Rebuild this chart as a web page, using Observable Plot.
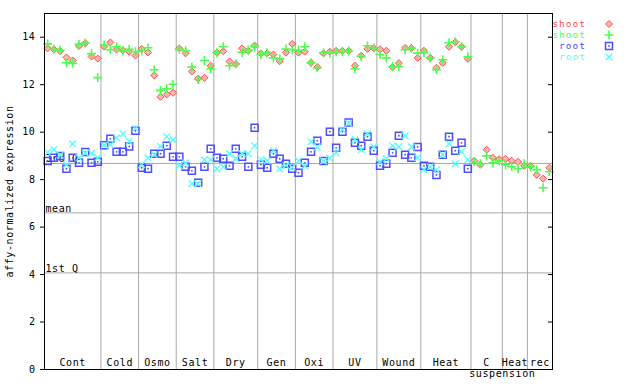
<!DOCTYPE html>
<html><head><meta charset="utf-8">
<script src="https://cdn.jsdelivr.net/npm/d3@7"></script>
<script src="https://cdn.jsdelivr.net/npm/@observablehq/plot@0.6"></script>
<style>
body{margin:0;background:#fff;}
#chart{width:640px;height:384px;}
svg{font-family:"DejaVu Sans Mono",monospace;letter-spacing:0.6px;}
</style></head><body><div id="chart"></div>
<script>
// ---------- data ----------
const groups = ["Cont","Cold","Osmo","Salt","Dry","Gen","Oxi","UV","Wound","Heat","C","Heat","rec"];
const groupSizes = [9,6,6,6,7,6,6,7,7,8,5,4,4];
const subLabel = "suspension";

const shootA = [
  13.53,13.49,13.42,13.15,13.02,13.63,13.75,13.19,13.10,
  13.60,13.78,13.48,13.45,13.39,13.23,
  13.51,13.36,12.39,11.49,11.59,11.66,
  13.53,13.32,12.56,12.26,12.29,12.80,
  13.35,13.41,12.98,12.87,13.53,13.43,13.65,
  13.32,13.32,13.27,12.99,13.35,13.72,
  13.35,13.39,12.92,12.74,13.32,13.39,
  13.43,13.43,13.43,12.80,13.22,13.51,13.54,
  13.49,13.43,12.74,12.91,13.55,13.54,13.13,
  13.43,13.13,12.71,12.92,13.60,13.79,13.60,13.09,
  8.79,8.63,9.26,8.92,8.86,
  8.88,8.79,8.75,8.58,
  8.58,8.20,8.04,8.50
];
const shootB = [
  13.72,13.49,13.45,12.93,12.90,13.70,13.75,13.31,12.30,
  13.67,13.47,13.60,13.43,13.49,13.39,
  13.43,13.56,12.63,11.76,11.83,12.02,
  13.49,13.43,12.74,12.22,13.02,12.67,
  13.35,13.60,12.80,12.88,13.36,13.46,13.60,
  13.26,13.35,13.13,13.09,13.50,13.47,
  13.45,13.60,12.92,12.71,13.35,13.33,
  13.39,13.39,13.42,12.67,13.18,13.64,13.55,
  13.27,13.13,12.76,12.76,13.47,13.54,13.33,
  13.35,13.13,12.63,13.05,13.77,13.81,13.60,13.18,
  8.75,8.67,9.00,8.71,8.79,
  8.63,8.54,8.46,8.67,
  8.54,8.42,7.66,8.33
];
const rootA = [
  8.79,8.92,9.00,8.46,8.92,8.71,9.16,8.71,8.75,
  9.45,9.72,9.17,9.17,9.40,10.06,
  8.50,8.46,9.09,9.09,9.43,8.96,
  8.96,8.54,8.37,7.87,8.54,9.30,
  8.92,8.88,8.58,9.30,8.96,8.54,10.19,
  8.63,8.50,9.09,8.88,8.67,8.46,
  8.29,8.71,9.17,9.64,8.79,10.02,
  9.34,10.02,10.41,9.55,9.43,9.81,9.22,
  8.58,8.67,9.13,9.85,9.05,8.92,9.38,
  8.58,8.54,8.20,9.05,9.81,9.22,9.55,8.46
];
const rootB = [
  9.14,9.26,9.03,8.63,9.51,8.92,9.12,9.12,8.93,
  9.45,9.47,9.76,9.93,9.61,10.15,
  8.63,8.92,9.05,9.40,9.81,9.68,
  8.58,8.71,7.83,7.83,8.84,8.84,
  8.46,8.54,9.09,8.88,9.09,9.09,9.43,
  8.84,8.79,9.22,8.46,8.60,8.52,
  8.79,8.58,9.60,9.38,8.79,8.90,
  9.13,10.10,10.38,9.68,9.26,9.93,9.38,
  8.75,8.88,9.43,9.38,9.85,9.38,8.92,
  8.42,8.54,8.42,9.05,9.51,8.67,9.17,8.84
];
const yTicks = [0,2,4,6,8,10,12,14];
const refLabels = ["3rd Q","mean","1st Q"];
const refValues = [8.68,6.60,4.07];
const seriesNames = ["shoot","shoot","root","root"];
const seriesColors = ["#ff4d4d","#4dff4d","#4d4dff","#4dffff"];
const yLabel = "affy-normalized expression";

// ---------- derived ----------
const groupInfo = [];
let start = 0;
groupSizes.forEach((n, g) => { groupInfo.push({label: groups[g], start, end: start + n, mid: start + (n - 1) / 2}); start += n; });
const nSlots = start;
const boundaries = groupInfo.slice(0, -1).map(d => d.end - 0.5);
const pts = arr => arr.map((v, i) => ({i, v}));
const refs = refLabels.map((l, k) => ({l, v: refValues[k]}));

// custom symbols
const rOf = size => Math.sqrt(size / Math.PI);
const symDiamond = {draw(c, s){const r=rOf(s); c.moveTo(0,-r); c.lineTo(r,0); c.lineTo(0,r); c.lineTo(-r,0); c.closePath();}};
const symPlus = {draw(c, s){const r=rOf(s); c.moveTo(-r,0); c.lineTo(r,0); c.moveTo(0,-r); c.lineTo(0,r);}};
const symSquare = {draw(c, s){const r=rOf(s); c.moveTo(-r,-r); c.lineTo(r,-r); c.lineTo(r,r); c.lineTo(-r,r); c.closePath();}};
const symTimes = {draw(c, s){const r=rOf(s); c.moveTo(-r,-r); c.lineTo(r,r); c.moveTo(-r,r); c.lineTo(r,-r);}};
const symbols = [symDiamond, symPlus, symSquare, symTimes];

const grid = "#a9a9a9";
const plot = Plot.plot({
  width: 640, height: 384,
  marginLeft: 44, marginRight: 88, marginTop: 13, marginBottom: 15,
  style: {fontFamily: "DejaVu Sans Mono, monospace", fontSize: "10px", background: "white", color: "black"},
  x: {domain: [-0.5, nSlots - 0.5], axis: null},
  y: {domain: [0, 15]},
  marks: [
    Plot.ruleX(boundaries, {stroke: grid, strokeWidth: 1}),
    Plot.ruleY(refValues, {stroke: grid, strokeWidth: 1}),
    Plot.text(refs, {y: "v", text: "l", frameAnchor: "left", textAnchor: "start", dx: 1, dy: -4.5, fill: "black"}),
    Plot.text(groupInfo, {x: "mid", text: "label", frameAnchor: "bottom", dy: -4, fill: "black"}),
    Plot.text([subLabel], {x: () => groupInfo[11].start - 0.5, text: d => d, frameAnchor: "bottom", dy: 7.5, fill: "black"}),
    Plot.dot(pts(shootA), {x: "i", y: "v", symbol: symDiamond, r: 3.5, stroke: seriesColors[0], fill: "#ffb3b3", strokeWidth: 1}),
    Plot.dot(pts(shootB), {x: "i", y: "v", symbol: symPlus, r: 4.5, stroke: seriesColors[1], fill: "none", strokeWidth: 1.6}),
    Plot.dot(pts(rootA), {x: "i", y: "v", symbol: symSquare, r: 3.5, stroke: seriesColors[2], fill: "none", strokeWidth: 1.5}),
    Plot.dot(pts(rootA), {x: "i", y: "v", r: 0.9, fill: seriesColors[2], stroke: "none"}),
    Plot.dot(pts(rootB), {x: "i", y: "v", symbol: symTimes, r: 3.3, stroke: seriesColors[3], fill: "none", strokeWidth: 1.3}),
    Plot.frame({stroke: "black", strokeWidth: 1}),
    Plot.axisY({anchor: "left", ticks: yTicks, tickSize: 4, tickPadding: 5, tickFormat: d => String(d),
      label: yLabel, labelAnchor: "center", labelArrow: "none", labelOffset: 39}),
    Plot.axisY({anchor: "right", ticks: yTicks, tickSize: 5, dx: -5, tickFormat: () => "", label: null})
  ]
});
document.getElementById("chart").appendChild(plot);

// legend (upper right, outside plot frame)
const svg = d3.select(plot);
const leg = svg.append("g").attr("font-family", "DejaVu Sans Mono, monospace").attr("font-size", 9.5)
  .style("letter-spacing", "1px");
seriesNames.forEach((name, k) => {
  const y = 24 + 11 * k;
  leg.append("text").attr("x", 586).attr("y", y).attr("dy", "0.32em").attr("text-anchor", "end")
    .attr("fill", seriesColors[k]).text(name);
  const r = [3.5, 4.5, 3.5, 3.3][k];
  leg.append("path").attr("transform", `translate(609,${y})`)
    .attr("d", d3.symbol(symbols[k], Math.PI * r * r)())
    .attr("fill", k === 0 ? "#ffb3b3" : "none").attr("stroke", seriesColors[k])
    .attr("stroke-width", [1, 1.6, 1.5, 1.3][k]);
  if (k === 2) leg.append("circle").attr("cx", 609).attr("cy", y).attr("r", 0.9).attr("fill", seriesColors[2]);
});
</script></body></html>
